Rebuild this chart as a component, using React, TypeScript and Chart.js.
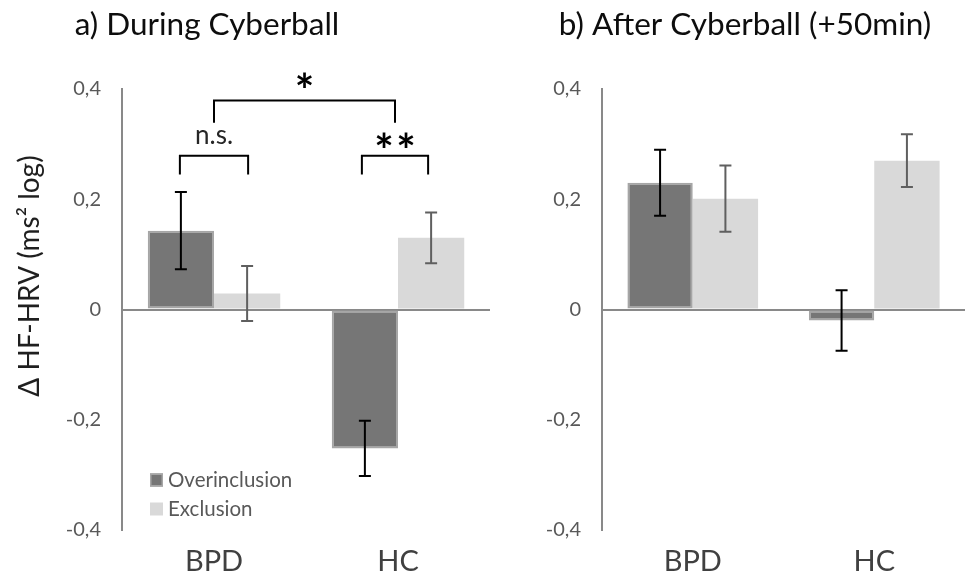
import React, { useEffect, useRef } from 'react';
import { Chart, registerables } from 'chart.js';

Chart.register(...registerables);

// ---------- data ----------
const categories = ['BPD', 'HC'];
const seriesNames = ['Overinclusion', 'Exclusion'];

const duringOver = [0.143, -0.252];
const duringExcl = [0.029, 0.130];
const duringOverErr = [0.07, 0.05];
const duringExclErr = [0.05, 0.046];

const afterOver = [0.230, -0.020];
const afterExcl = [0.201, 0.270];
const afterOverErr = [0.06, 0.055];
const afterExclErr = [0.06, 0.048];

const yTicks = [-0.4, -0.2, 0, 0.2, 0.4];
const panelTitles = ['a) During Cyberball', 'b) After Cyberball (+50min)'];
const yAxisLabel = 'Δ HF-HRV (ms² log)';
const sigLabels = ['n.s.', '**', '*'];

// ---------- styles ----------
const FONT = 'Lato, "Open Sans", sans-serif';
const DARK = '#767676';
const DARK_BORDER = '#a6a6a6';
const LIGHT = '#d9d9d9';
const AXIS = '#898989';
const ERR_COLORS = ['#000000', '#5f5f5f'];

const fmt = (v: number) => {
  if (Math.abs(v) < 1e-9) return '0';
  return v.toFixed(1).replace('.', ',');
};

function errorBarsPlugin(errs: number[][]) {
  return {
    id: 'errorBars',
    afterDatasetsDraw(chart: any) {
      const ctx = chart.ctx;
      const y = chart.scales.y;
      errs.forEach((e, di) => {
        const meta = chart.getDatasetMeta(di);
        meta.data.forEach((bar: any, i: number) => {
          const v = chart.data.datasets[di].data[i] as number;
          const top = y.getPixelForValue(v + e[i]);
          const bot = y.getPixelForValue(v - e[i]);
          const x = bar.x;
          ctx.save();
          ctx.strokeStyle = ERR_COLORS[di];
          ctx.lineWidth = 2;
          ctx.beginPath();
          ctx.moveTo(x, top);
          ctx.lineTo(x, bot);
          ctx.moveTo(x - 6, top);
          ctx.lineTo(x + 6, top);
          ctx.moveTo(x - 6, bot);
          ctx.lineTo(x + 6, bot);
          ctx.stroke();
          ctx.restore();
        });
      });
    },
  };
}

function titlePlugin(text: string, cx: number) {
  return {
    id: 'panelTitle',
    afterDraw(chart: any) {
      const ctx = chart.ctx;
      ctx.save();
      ctx.fillStyle = '#0d0d0d';
      ctx.font = `31.5px ${FONT}`;
      ctx.textAlign = 'center';
      ctx.textBaseline = 'middle';
      ctx.fillText(text, cx, 25);
      ctx.restore();
    },
  };
}

const yLabelPlugin = {
  id: 'yLabel',
  afterDraw(chart: any) {
    const ctx = chart.ctx;
    ctx.save();
    ctx.translate(30, 276);
    ctx.rotate(-Math.PI / 2);
    ctx.fillStyle = '#1f1f1f';
    ctx.font = `28px ${FONT}`;
    ctx.textAlign = 'center';
    ctx.textBaseline = 'middle';
    ctx.fillText(yAxisLabel, 0, 0);
    ctx.restore();
  },
};

const legendPlugin = {
  id: 'innerLegend',
  afterDraw(chart: any) {
    const ctx = chart.ctx;
    const area = chart.chartArea;
    const x0 = area.left + 28;
    const rows = [area.bottom - 50, area.bottom - 21];
    chart.data.datasets.forEach((ds: any, i: number) => {
      const cy = rows[i];
      ctx.save();
      ctx.fillStyle = ds.backgroundColor;
      ctx.fillRect(x0, cy - 6.5, 13, 13);
      if (ds.borderWidth) {
        ctx.strokeStyle = ds.borderColor;
        ctx.lineWidth = 1.5;
        ctx.strokeRect(x0 + 0.75, cy - 5.75, 11.5, 11.5);
      }
      ctx.fillStyle = '#595959';
      ctx.font = `20.5px ${FONT}`;
      ctx.textAlign = 'left';
      ctx.textBaseline = 'middle';
      ctx.fillText(ds.label, x0 + 18, cy);
      ctx.restore();
    });
  },
};

const bracketPlugin = {
  id: 'brackets',
  afterDraw(chart: any) {
    const ctx = chart.ctx;
    const y = chart.scales.y;
    const m0 = chart.getDatasetMeta(0).data;
    const m1 = chart.getDatasetMeta(1).data;
    const draw = (xa: number, xb: number, topV: number, botV: number) => {
      const t = y.getPixelForValue(topV);
      const b = y.getPixelForValue(botV);
      ctx.beginPath();
      ctx.moveTo(xa, b);
      ctx.lineTo(xa, t);
      ctx.lineTo(xb, t);
      ctx.lineTo(xb, b);
      ctx.stroke();
    };
    ctx.save();
    ctx.strokeStyle = '#000';
    ctx.lineWidth = 2;
    const b1 = [m0[0].x - 1, m1[0].x + 1];
    const b2 = [m0[1].x - 3, m1[1].x - 3];
    draw(b1[0], b1[1], 0.279, 0.245);
    draw(b2[0], b2[1], 0.279, 0.245);
    const c1 = (b1[0] + b1[1]) / 2;
    const c2 = (b2[0] + b2[1]) / 2;
    draw(c1, c2, 0.379, 0.339);

    ctx.textAlign = 'center';
    ctx.textBaseline = 'middle';
    ctx.fillStyle = '#262626';
    ctx.font = `26px ${FONT}`;
    ctx.fillText(sigLabels[0], c1, y.getPixelForValue(0.315));
    ctx.fillStyle = '#000';
    ctx.font = `bold 46px ${FONT}`;
    const stars = sigLabels[1].split('');
    const starY = y.getPixelForValue(0.285);
    stars.forEach((s, i) => {
      ctx.fillText(s, c2 + (i - (stars.length - 1) / 2) * 22, starY);
    });
    ctx.fillText(sigLabels[2], (c1 + c2) / 2, y.getPixelForValue(0.395));
    ctx.restore();
  },
};

function makeConfig(over: number[], excl: number[], overErr: number[], exclErr: number[], axisWidth: number, extra: any[]) {
  return {
    type: 'bar' as const,
    data: {
      labels: categories,
      datasets: [
        { label: seriesNames[0], data: over, backgroundColor: DARK, borderColor: DARK_BORDER, borderWidth: 2, borderSkipped: false },
        { label: seriesNames[1], data: excl, backgroundColor: LIGHT, borderWidth: 0 },
      ],
    },
    options: {
      responsive: false,
      animation: false as const,
      layout: { padding: { top: 89, left: 0, right: 0, bottom: 0 } },
      datasets: { bar: { categoryPercentage: 0.72, barPercentage: 1 } },
      plugins: { legend: { display: false }, tooltip: { enabled: false }, title: { display: false } },
      scales: {
        x: {
          grid: { display: false, drawTicks: false },
          border: { display: false },
          ticks: { color: '#404040', font: { family: FONT, size: 29 }, padding: 14 },
          afterFit: (s: any) => { s.height = 47; },
        },
        y: {
          min: -0.4,
          max: 0.4,
          afterBuildTicks: (s: any) => { s.ticks = yTicks.map((v) => ({ value: v })); },
          ticks: { color: '#595959', font: { family: FONT, size: 20 }, padding: 21, callback: (v: any) => fmt(Number(v)) },
          grid: {
            drawTicks: false,
            lineWidth: 2,
            color: (c: any) => (c.tick && Math.abs(c.tick.value) < 1e-9 ? AXIS : 'rgba(0,0,0,0)'),
          },
          border: { display: true, color: AXIS, width: 2 },
          afterFit: (s: any) => { s.width = axisWidth; },
        },
      },
    },
    plugins: [errorBarsPlugin([overErr, exclErr]), ...extra],
  };
}

export default function App() {
  const refA = useRef<HTMLCanvasElement>(null);
  const refB = useRef<HTMLCanvasElement>(null);

  useEffect(() => {
    const a = new Chart(refA.current as HTMLCanvasElement, makeConfig(
      duringOver, duringExcl, duringOverErr, duringExclErr, 122,
      [titlePlugin(panelTitles[0], 207), yLabelPlugin, legendPlugin, bracketPlugin],
    ) as any);
    const b = new Chart(refB.current as HTMLCanvasElement, makeConfig(
      afterOver, afterExcl, afterOverErr, afterExclErr, 112,
      [titlePlugin(panelTitles[1], 255)],
    ) as any);
    return () => { a.destroy(); b.destroy(); };
  }, []);

  return (
    <div style={{ position: 'absolute', left: 0, top: 0, width: 965, height: 577, background: '#fff' }}>
      <canvas ref={refA} width={490} height={577} style={{ position: 'absolute', left: 0, top: 0 }} />
      <canvas ref={refB} width={475} height={577} style={{ position: 'absolute', left: 490, top: 0 }} />
    </div>
  );
}
